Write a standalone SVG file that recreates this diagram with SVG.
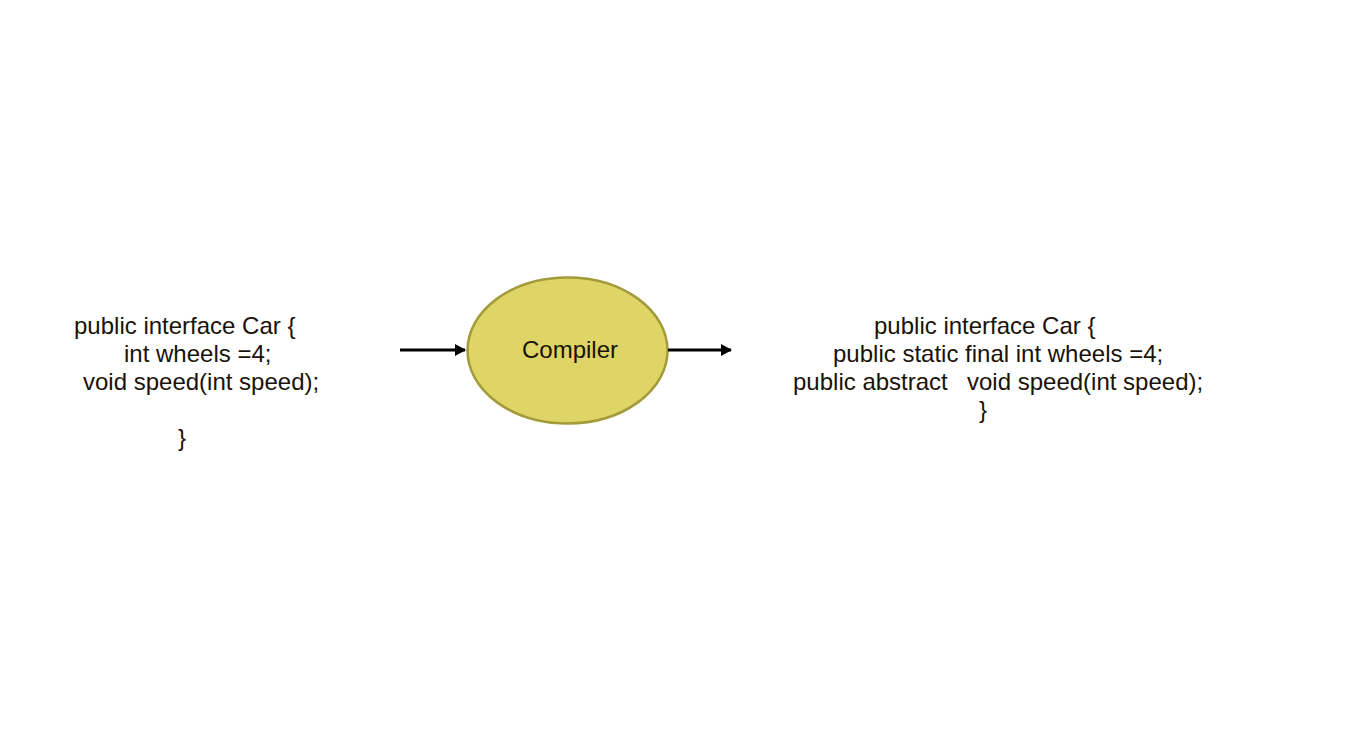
<svg xmlns="http://www.w3.org/2000/svg" width="1366" height="738" viewBox="0 0 1366 738">
<defs>
<style>
.t{font-family:"Liberation Sans",Arial,sans-serif;font-size:24px;fill:#1a1208}
.c{stroke:#000;stroke-width:3;fill:none}
</style>
<marker id="ah" markerWidth="12" markerHeight="12" refX="10" refY="6" orient="auto" markerUnits="userSpaceOnUse">
<path d="M0,0 L11,6 L0,12 Z" fill="#000"/>
</marker>
</defs>
<rect width="1366" height="738" fill="#fff"/>
<g id="source">
<text class="t" x="74" y="334">public interface Car {</text>
<text class="t" x="124" y="362">int wheels =4;</text>
<text class="t" x="83" y="390">void speed(int speed);</text>
<text class="t" x="178" y="446">}</text>
</g>
<g id="compiler">
<ellipse cx="567.5" cy="350.5" rx="100" ry="73" fill="#dfd466" stroke="#a39a3a" stroke-width="2.5"/>
<text class="t" x="570" y="358" text-anchor="middle">Compiler</text>
</g>
<g id="result">
<text class="t" x="874" y="334">public interface Car {</text>
<text class="t" x="833" y="362">public static final int wheels =4;</text>
<text class="t" x="793" y="390">public abstract</text>
<text class="t" x="967" y="390">void speed(int speed);</text>
<text class="t" x="979" y="418">}</text>
</g>
<g id="connectors">
<line class="c" x1="400" y1="350" x2="465" y2="350" marker-end="url(#ah)"/>
<line class="c" x1="668" y1="350" x2="731" y2="350" marker-end="url(#ah)"/>
</g>
</svg>
